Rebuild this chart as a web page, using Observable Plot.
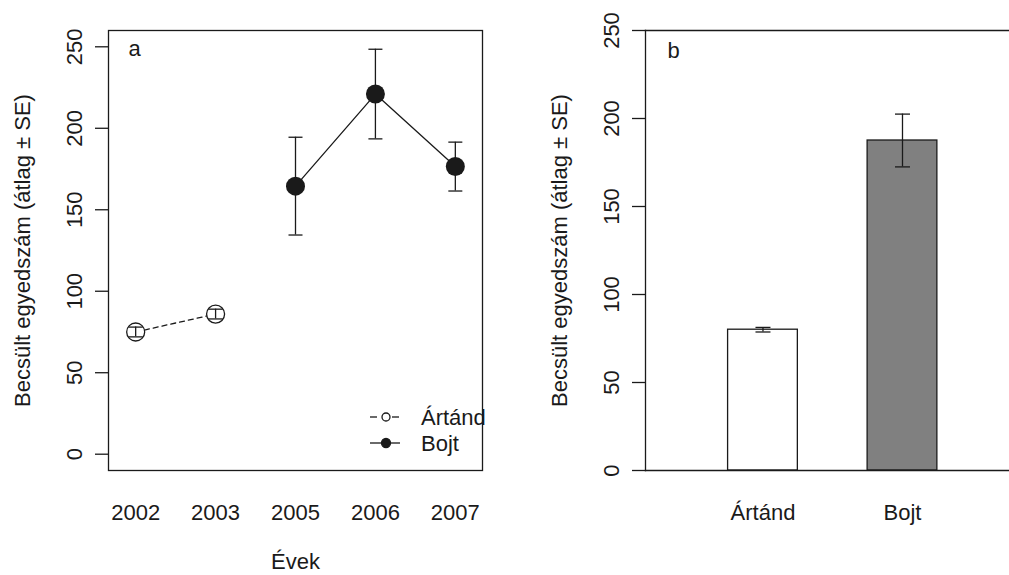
<!DOCTYPE html>
<html><head><meta charset="utf-8">
<script src="https://cdn.jsdelivr.net/npm/d3@7"></script>
<script src="https://cdn.jsdelivr.net/npm/@observablehq/plot@0.6"></script>
<style>
html,body{margin:0;padding:0;background:#fff;overflow:hidden;}
#wrap{position:relative;width:1009px;height:575px;font-family:"Liberation Sans",Arial,sans-serif;color:#1a1a1a;}
#a,#b,#leg{position:absolute;top:0;}
#a{left:0}
#b{left:505px}
#leg{left:0;top:0}
</style></head><body>
<div id="wrap"><div id="a"></div><div id="b"></div>
<svg id="leg" width="500" height="575" style="pointer-events:none">
  <g stroke="#1a1a1a" stroke-width="1.3" fill="none">
    <line x1="370" y1="417" x2="377" y2="417"/>
    <line x1="392" y1="417" x2="399" y2="417"/>
    <circle cx="386" cy="417" r="4" fill="#fff"/>
    <line x1="370" y1="443" x2="400" y2="443"/>
    <circle cx="386" cy="443" r="4.5" fill="#1a1a1a"/>
  </g>
  <g font-family="Liberation Sans, Arial, sans-serif" font-size="22" fill="#1a1a1a">
    <text id="legA" x="421" y="417" dy="0.35em"></text>
    <text id="legB" x="421" y="443" dy="0.35em"></text>
  </g>
</svg>
</div>
<script>
const years = ["2002", "2003", "2005", "2006", "2007"];
const yearSite = ["Ártánd", "Ártánd", "Bojt", "Bojt", "Bojt"];
const yearMean = [75, 86, 164.5, 221, 176.5];
const yearSE = [3, 3, 30, 27.5, 15];
const sites = ["Ártánd", "Bojt"];
const siteMean = [80, 187.5];
const siteSE = [1.3, 15];
const yTicks = [0, 50, 100, 150, 200, 250];
const yLabel = "Becsült egyedszám (átlag ± SE)";
const xLabel = "Évek";
const panelA = "a", panelB = "b";

document.getElementById("legA").textContent = sites[0];
document.getElementById("legB").textContent = sites[1];

const ink = "#1a1a1a";
const font = "Liberation Sans, Arial, sans-serif";
const capSym = {draw(ctx, size) { const r = Math.sqrt(size / Math.PI); ctx.moveTo(-r, 0); ctx.lineTo(r, 0); }};

const A = years.map((y, i) => ({i: i + 1, year: y, site: yearSite[i], mean: yearMean[i], se: yearSE[i]}));
const art = A.filter(d => d.site === sites[0]);
const bojt = A.filter(d => d.site === sites[1]);

const plotA = Plot.plot({
  width: 500, height: 575,
  marginLeft: 108, marginRight: 18, marginTop: 30, marginBottom: 105,
  x: {type: "linear", domain: [0.66, 5.34]},
  y: {domain: [-10, 260]},
  style: {fontFamily: font, fontSize: "22px", color: ink, background: "transparent", overflow: "visible"},
  marks: [
    Plot.frame({stroke: ink, strokeWidth: 1.3}),
    Plot.axisY({ticks: yTicks, tickSize: 13, tickPadding: 14, tickRotate: -90, stroke: ink, strokeWidth: 1.3,
      label: yLabel, labelAnchor: "center", labelArrow: "none", labelOffset: 94}),
    Plot.axisX({ticks: [1, 2, 3, 4, 5], tickFormat: d => years[d - 1], tickSize: 0, tickPadding: 34,
      label: xLabel, labelAnchor: "center", labelArrow: "none", labelOffset: 98}),
    Plot.line(art, {x: "i", y: "mean", stroke: ink, strokeWidth: 1.3, strokeDasharray: "5,4"}),
    Plot.dot(art, {x: "i", y: "mean", r: 9, fill: "white", stroke: ink, strokeWidth: 1.3}),
    Plot.ruleX(A, {x: "i", y1: d => d.mean - d.se, y2: d => d.mean + d.se, stroke: ink, strokeWidth: 1.3}),
    Plot.dot(A, {x: "i", y: d => d.mean - d.se, symbol: capSym, r: 7, fill: "none", stroke: ink, strokeWidth: 1.3}),
    Plot.dot(A, {x: "i", y: d => d.mean + d.se, symbol: capSym, r: 7, fill: "none", stroke: ink, strokeWidth: 1.3}),
    Plot.line(bojt, {x: "i", y: "mean", stroke: ink, strokeWidth: 1.3}),
    Plot.dot(bojt, {x: "i", y: "mean", r: 9.5, fill: ink, stroke: "none"}),
    Plot.text([panelA], {frameAnchor: "top-left", dx: 20, dy: 10, text: d => d, fontSize: 22, fill: ink})
  ]
});
document.getElementById("a").appendChild(plotA);

const B = sites.map((s, i) => ({i: i + 1, site: s, mean: siteMean[i], se: siteSE[i]}));
const plotB = Plot.plot({
  width: 504, height: 575,
  marginLeft: 140, marginRight: 0, marginTop: 30, marginBottom: 105,
  x: {type: "linear", domain: [0.158, 2.767]},
  y: {domain: [0, 250]},
  color: {domain: sites, range: ["#ffffff", "#808080"]},
  style: {fontFamily: font, fontSize: "22px", color: ink, background: "transparent", overflow: "visible"},
  marks: [
    Plot.rectY(B, {x1: d => d.i - 0.25, x2: d => d.i + 0.25, y1: 0, y2: "mean", fill: "site", stroke: ink, strokeWidth: 1.3}),
    Plot.ruleX(B, {x: "i", y1: d => d.mean - d.se, y2: d => d.mean + d.se, stroke: ink, strokeWidth: 1.3}),
    Plot.dot(B, {x: "i", y: d => d.mean - d.se, symbol: capSym, r: 7.5, fill: "none", stroke: ink, strokeWidth: 1.3}),
    Plot.dot(B, {x: "i", y: d => d.mean + d.se, symbol: capSym, r: 7.5, fill: "none", stroke: ink, strokeWidth: 1.3}),
    Plot.frame({anchor: "left", stroke: ink, strokeWidth: 1.3}),
    Plot.frame({anchor: "top", stroke: ink, strokeWidth: 1.3}),
    Plot.frame({anchor: "bottom", stroke: ink, strokeWidth: 1.3}),
    Plot.axisY({ticks: yTicks, tickSize: 13, tickPadding: 14, tickRotate: -90, stroke: ink, strokeWidth: 1.3,
      label: yLabel, labelAnchor: "center", labelArrow: "none", labelOffset: 94}),
    Plot.axisX({ticks: [1, 2], tickFormat: d => sites[d - 1], tickSize: 0, tickPadding: 34, label: null}),
    Plot.text([panelB], {frameAnchor: "top-left", dx: 22, dy: 12, text: d => d, fontSize: 22, fill: ink})
  ]
});
document.getElementById("b").appendChild(plotB);
</script>
</body></html>
